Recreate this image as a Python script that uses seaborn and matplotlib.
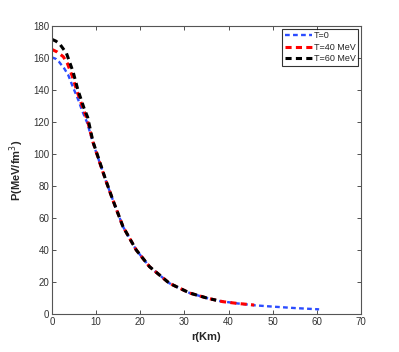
import pandas as pd
import seaborn as sns
import matplotlib.pyplot as plt

# valores
r_t0 = [0, 0.8, 1.6, 2.8, 3.7, 4.6, 6.0, 6.8, 8.0, 9.3, 10.9, 12.3, 13.8,
        16.1, 19.1, 22.1, 26.6, 31.2, 35.3, 38.0, 42.0, 46.0, 50.0, 55.0, 60.5]
p_t0 = [160.4, 159.6, 157.7, 153.5, 149.4, 143.0, 133.7, 127.5, 119.5, 107.0,
        94.0, 82.7, 71.3, 54.6, 40.0, 29.6, 19.2, 13.1, 9.8, 8.1, 6.6, 5.4,
        4.6, 3.7, 2.9]

r_t40 = [0, 1.2, 2.6, 3.5, 4.6, 5.6, 7.0, 8.0, 9.3, 10.9, 12.3, 13.8, 16.1,
         19.1, 22.1, 26.6, 31.2, 35.3, 38.7, 42.0, 45.8]
p_t40 = [165.4, 163.8, 160.8, 156.7, 148.8, 140.0, 129.0, 121.5, 107.5, 94.0,
         82.7, 71.3, 54.6, 40.0, 29.6, 19.2, 13.1, 9.8, 7.7, 6.6, 5.6]

r_t60 = [0, 0.9, 1.8, 3.3, 4.8, 5.9, 7.3, 8.1, 9.3, 10.9, 12.3, 13.8, 16.1,
         19.1, 22.1, 26.6, 31.2, 35.3, 37.2]
p_t60 = [171.7, 170.6, 168.7, 163.0, 151.4, 140.0, 128.5, 123.0, 107.8, 94.5,
         82.9, 71.3, 54.6, 40.0, 29.6, 19.2, 13.1, 9.8, 8.6]

rotulos = ['T=0', 'T=40 MeV', 'T=60 MeV']
cores = ['#2b4cff', '#ff0000', '#000000']

dados = pd.concat([
    pd.DataFrame({'r': r_t0, 'P': p_t0, 'T': rotulos[0]}),
    pd.DataFrame({'r': r_t40, 'P': p_t40, 'T': rotulos[1]}),
    pd.DataFrame({'r': r_t60, 'P': p_t60, 'T': rotulos[2]}),
])

sns.set_style('ticks')
plt.rcParams['font.family'] = ['Liberation Sans', 'DejaVu Sans']

fig = plt.figure(figsize=(3.99, 3.52), dpi=100)
ax = fig.add_axes([0.130, 0.108, 0.775, 0.818])

for rot, cor, lw in zip(rotulos, cores, [1.7, 2.2, 2.2]):
    sub = dados[dados['T'] == rot]
    sns.lineplot(x='r', y='P', data=sub, ax=ax, color=cor, linewidth=lw,
                 linestyle=(0, (2.0, 1.4)), label=rot, sort=False)

ax.set_xlim(0, 70)
ax.set_ylim(0, 180)
ax.set_xticks(range(0, 71, 10))
ax.set_yticks(range(0, 181, 20))
ax.tick_params(direction='in', length=3, width=0.6, labelsize=7,
               top=True, right=True, colors='#333333', pad=2)
for s in ax.spines.values():
    s.set_linewidth(0.8)
    s.set_color('#555555')

ax.set_xlabel('r(Km)', fontsize=8, fontweight='bold', labelpad=4)
ax.set_ylabel('P(MeV/fm$^3$)', fontsize=8, fontweight='bold', labelpad=5)

leg = ax.legend(loc='upper right', fontsize=6.5, frameon=True, fancybox=False,
                handlelength=3.0, handletextpad=0.2, borderpad=0.3,
                labelspacing=0.25, borderaxespad=0.3)
leg.get_frame().set_edgecolor('#000000')
leg.get_frame().set_linewidth(0.8)

fig.savefig('out.png', dpi=100)
